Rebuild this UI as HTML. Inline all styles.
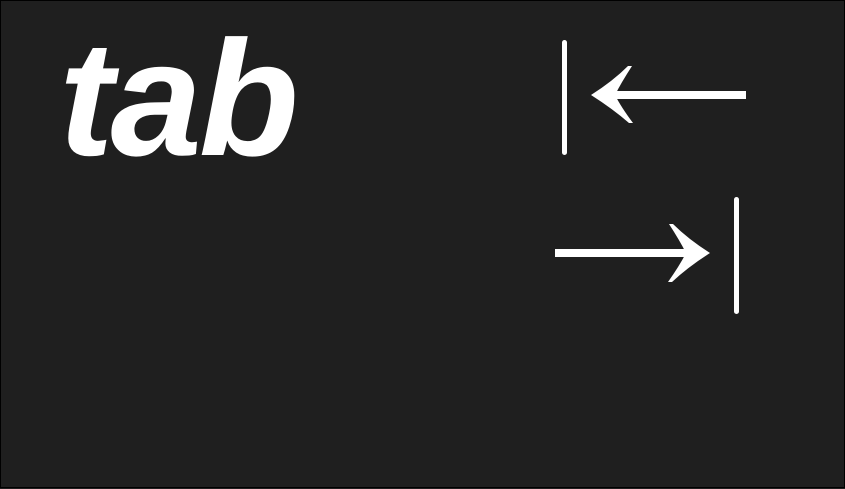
<!DOCTYPE html>
<html><head><style>
html,body{margin:0;padding:0;}
body{width:845px;height:488px;background:#1f1f1f;position:relative;overflow:hidden;box-sizing:border-box;border:1px solid #000;}
.t{position:absolute;left:58px;top:0px;font-family:"Liberation Sans",sans-serif;font-weight:bold;font-style:italic;font-size:164px;line-height:1;color:#fff;letter-spacing:-3px;}
svg{position:absolute;left:0;top:0;}
</style></head><body>
<div class="t" style="top:16px">tab</div>
<svg width="845" height="488" viewBox="0 0 845 488">
<g fill="#fff" stroke="none">
<rect x="561" y="39" width="5" height="115" rx="2.5"/>
<rect x="612" y="90" width="133" height="8"/>
<path d="M590 94 Q612 80 627 65 L631 65 Q620 82 614 94 Q620 106 632 122 L628 122 Q612 108 590 94 Z"/>
<rect x="554" y="248" width="134" height="8"/>
<path d="M709 252 Q687 238 672 223 L668 223 Q679 240 685 252 Q679 264 667 281 L671 281 Q687 266 709 252 Z"/>
<rect x="733" y="196" width="5" height="117" rx="2.5"/>
</g>
</svg>
</body></html>
